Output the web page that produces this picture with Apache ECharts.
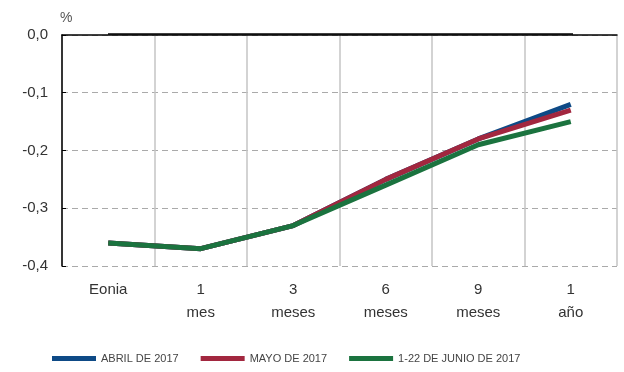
<!DOCTYPE html>
<html>
<head>
<meta charset="utf-8">
<script src="https://cdn.jsdelivr.net/npm/echarts@6/dist/echarts.min.js"></script>
<style>
  html, body { margin: 0; padding: 0; background: #fff; }
  #chart { width: 624px; height: 372px; }
</style>
</head>
<body>
<div id="chart"></div>
<script>
// Plazos de la curva
const categories = ['Eonia', '1\nmes', '3\nmeses', '6\nmeses', '9\nmeses', '1\naño'];

// Tipos medios (%)
const abril2017 = [-0.36, -0.37, -0.33, -0.25, -0.18, -0.12];
const mayo2017 = [-0.36, -0.37, -0.33, -0.25, -0.18, -0.13];
const junio2017 = [-0.36, -0.37, -0.33, -0.26, -0.19, -0.15];

const seriesNames = ['ABRIL DE 2017', 'MAYO DE 2017', '1-22 DE JUNIO DE 2017'];
const seriesColors = ['#0e4a86', '#a2273f', '#1b733f'];
const yTicks = [-0.4, -0.3, -0.2, -0.1, 0];

const FONT = '"Liberation Sans", Arial, Helvetica, sans-serif';
const chart = echarts.init(document.getElementById('chart'));

function lineSeries(name, data, color) {
  return {
    name: name,
    type: 'line',
    data: data,
    symbol: 'none',
    lineStyle: { width: 5, color: color },
    itemStyle: { color: color },
    z: 3
  };
}

chart.setOption({
  animation: false,
  grid: { left: 62, right: 7, top: 35, bottom: 106 },
  legend: {
    bottom: 3,
    left: 47,
    itemWidth: 44,
    itemHeight: 5,
    itemGap: 22,
    icon: 'rect',
    textStyle: { fontFamily: '"Liberation Sans Narrow", "Liberation Sans", sans-serif', fontSize: 11, color: '#444' },
    data: seriesNames
  },
  xAxis: {
    type: 'category',
    data: categories,
    boundaryGap: true,
    axisLine: { lineStyle: { color: '#000', width: 1.5 } },
    axisTick: { inside: true, length: 5, lineStyle: { color: '#555' } },
    axisLabel: { fontFamily: FONT, fontSize: 15, color: '#333', lineHeight: 23, margin: 12 },
    splitLine: { show: true, lineStyle: { color: '#c4c4c4', width: 1.5 } }
  },
  yAxis: {
    type: 'value',
    min: yTicks[0],
    max: yTicks[yTicks.length - 1],
    interval: 0.1,
    name: '%',
    nameLocation: 'end',
    nameGap: 10,
    nameTextStyle: { fontFamily: FONT, fontSize: 14, color: '#555', align: 'left', padding: [0, 0, 0, -2] },
    axisLine: { show: true, lineStyle: { color: '#000', width: 1.5 } },
    axisTick: { show: true, inside: true, length: 4, lineStyle: { color: '#000' } },
    axisLabel: {
      fontFamily: FONT, fontSize: 15, color: '#333', margin: 14,
      formatter: v => v.toFixed(1).replace('.', ',').replace('-0,0', '0,0')
    },
    splitLine: { show: true, lineStyle: { color: '#aaa', type: [6, 4], width: 1 } }
  },
  graphic: [{
    type: 'line',
    shape: { x1: 108, y1: 34, x2: 573, y2: 34 },
    style: { stroke: '#000', lineWidth: 1.5 },
    z: 10
  }],
  series: [
    lineSeries(seriesNames[0], abril2017, seriesColors[0]),
    lineSeries(seriesNames[1], mayo2017, seriesColors[1]),
    lineSeries(seriesNames[2], junio2017, seriesColors[2])
  ]
});
</script>
</body>
</html>
